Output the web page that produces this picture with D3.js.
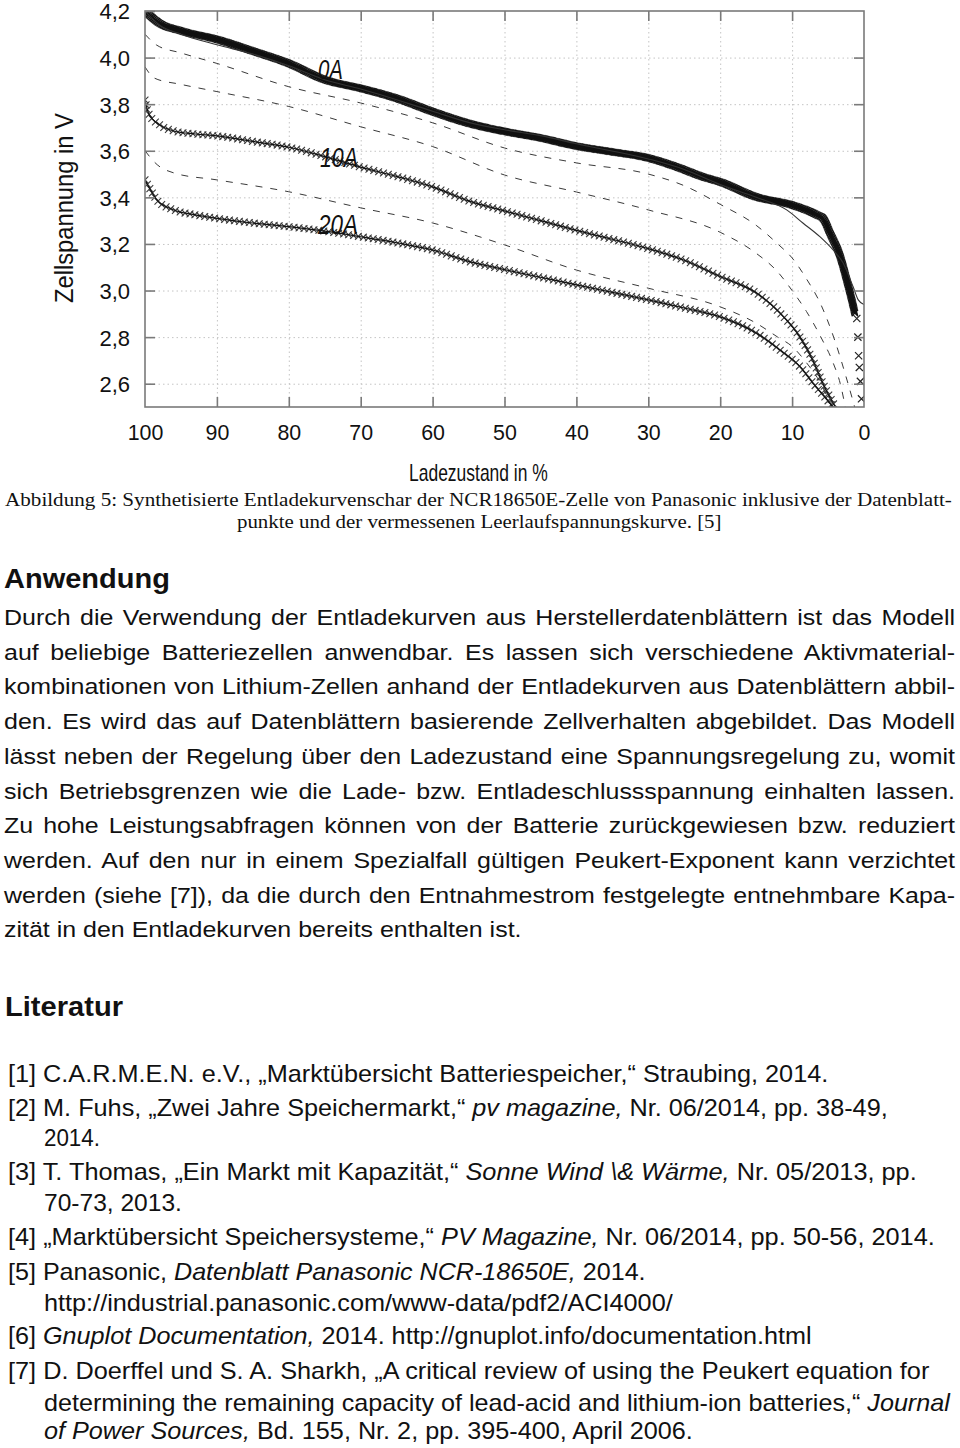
<!DOCTYPE html>
<html><head><meta charset="utf-8">
<script src="https://cdn.jsdelivr.net/npm/d3@7"></script>
<style>body{margin:0;background:#fff} svg{display:block}</style>
</head><body>
<svg id="c" width="960" height="1448"></svg>
<script>
// ---------- DATA ----------
const xTicks = [100,90,80,70,60,50,40,30,20,10,0];
const yTicks = [2.6,2.8,3.0,3.2,3.4,3.6,3.8,4.0,4.2];
const yTickLabels = ["2,6","2,8","3,0","3,2","3,4","3,6","3,8","4,0","4,2"];
// [Ladezustand %, Spannung V]
const ocvMeasured = [[100,4.2],[98,4.148],[95,4.115],[90,4.078],[85,4.028],[80,3.975],[75,3.905],[70,3.868],[65,3.825],[60,3.768],[55,3.718],[50,3.683],[45,3.655],[40,3.62],[35,3.595],[30,3.569],[26,3.53],[22.4,3.488],[20,3.466],[15,3.402],[10,3.367],[6.5,3.324],[5.7,3.31],[4.7,3.245],[3.3,3.145],[2.4,3.045],[1.7,2.96],[1.25,2.9]];
const ocvTail = [[1.0,2.88],[0.85,2.80],[0.75,2.72],[0.65,2.67],[0.5,2.61],[0.35,2.535]];
const ocvModel = [[100,4.2],[98,4.14],[95,4.10],[90,4.055],[85,4.015],[80,3.965],[75,3.905],[70,3.865],[60,3.77],[55,3.722],[50,3.69],[45,3.665],[40,3.63],[30,3.565],[25,3.52],[20,3.455],[15,3.40],[10.7,3.345],[8.5,3.29],[6.1,3.23],[4.3,3.174],[2.9,3.118],[1.5,3.015],[0.8,2.96],[0,2.94]];
const dash1 = [[100,4.10],[98.4,4.054],[95,4.02],[90,3.975],[80,3.875],[70,3.805],[60,3.72],[50,3.612],[40,3.548],[30,3.5],[25,3.45],[20,3.37],[15,3.28],[12,3.20],[10,3.14],[8,3.05],[6,2.94],[4,2.78],[2.5,2.63],[1.3,2.5]];
const dash2 = [[100,3.96],[98.7,3.912],[95,3.885],[90,3.854],[80,3.79],[70,3.703],[60,3.618],[50,3.496],[40,3.423],[30,3.346],[20,3.25],[15,3.16],[12,3.08],[10,3.0],[8,2.91],[6,2.80],[4.3,2.69],[3.3,2.6],[2.6,2.5]];
const dash3 = [[100,3.60],[98.3,3.54],[96,3.505],[90,3.475],[80,3.424],[70,3.355],[60,3.29],[50,3.196],[40,3.088],[30,3.01],[20,2.93],[15,2.86],[12,2.80],[10,2.76],[8,2.69],[6,2.60],[4.5,2.5]];
const curve10A = [[100,3.818],[99.5,3.76],[97.9,3.71],[96,3.685],[93,3.672],[90,3.664],[85,3.64],[80,3.615],[75,3.575],[70,3.53],[65,3.49],[60,3.445],[55,3.385],[50,3.342],[45,3.30],[40,3.258],[35,3.22],[30,3.18],[25,3.13],[20,3.06],[15,2.99],[11.7,2.904],[8.9,2.80],[7.1,2.70],[5.7,2.60],[4.3,2.517],[4.0,2.5]];
const curve20A = [[100,3.475],[99,3.42],[98.4,3.39],[96,3.346],[93,3.325],[90,3.31],[85,3.29],[80,3.274],[75,3.255],[70,3.231],[65,3.205],[60,3.174],[55,3.125],[50,3.09],[45,3.057],[40,3.024],[35,2.992],[30,2.96],[25,2.925],[20,2.887],[15,2.818],[11.7,2.745],[8.9,2.673],[7.1,2.603],[5.1,2.53],[4.3,2.5]];
const curveLabels = ["0A","10A","20A"];
const xTitle = "Ladezustand in %";
const yTitle = "Zellspannung in V";
const captionLines = ["Abbildung 5: Synthetisierte Entladekurvenschar der NCR18650E-Zelle von Panasonic inklusive der Datenblatt-","punkte und der vermessenen Leerlaufspannungskurve. [5]"];
const heading1 = "Anwendung";
const bodyLines = [
 "Durch die Verwendung der Entladekurven aus Herstellerdatenblättern ist das Modell",
 "auf beliebige Batteriezellen anwendbar. Es lassen sich verschiedene Aktivmaterial-",
 "kombinationen von Lithium-Zellen anhand der Entladekurven aus Datenblättern abbil-",
 "den. Es wird das auf Datenblättern basierende Zellverhalten abgebildet. Das Modell",
 "lässt neben der Regelung über den Ladezustand eine Spannungsregelung zu, womit",
 "sich Betriebsgrenzen wie die Lade- bzw. Entladeschlussspannung einhalten lassen.",
 "Zu hohe Leistungsabfragen können von der Batterie zurückgewiesen bzw. reduziert",
 "werden. Auf den nur in einem Spezialfall gültigen Peukert-Exponent kann verzichtet",
 "werden (siehe [7]), da die durch den Entnahmestrom festgelegte entnehmbare Kapa-",
 "zität in den Entladekurven bereits enthalten ist."
];
const heading2 = "Literatur";
// each line: list of [text, italic?]
const refLines = [
 [["[1] C.A.R.M.E.N. e.V., „Marktübersicht Batteriespeicher,“ Straubing, 2014.",0]],
 [["[2] M. Fuhs, „Zwei Jahre Speichermarkt,“ ",0],["pv magazine,",1],[" Nr. 06/2014, pp. 38-49,",0]],
 [["2014.",0]],
 [["[3] T. Thomas, „Ein Markt mit Kapazität,“ ",0],["Sonne Wind \\& Wärme,",1],[" Nr. 05/2013, pp.",0]],
 [["70-73, 2013.",0]],
 [["[4] „Marktübersicht Speichersysteme,“ ",0],["PV Magazine,",1],[" Nr. 06/2014, pp. 50-56, 2014.",0]],
 [["[5] Panasonic, ",0],["Datenblatt Panasonic NCR-18650E,",1],[" 2014.",0]],
 [["http://industrial.panasonic.com/www-data/pdf2/ACI4000/",0]],
 [["[6] ",0],["Gnuplot Documentation,",1],[" 2014. http://gnuplot.info/documentation.html",0]],
 [["[7] D. Doerffel und S. A. Sharkh, „A critical review of using the Peukert equation for",0]],
 [["determining the remaining capacity of lead-acid and lithium-ion batteries,“ ",0],["Journal",1]],
 [["of Power Sources,",1],[" Bd. 155, Nr. 2, pp. 395-400, April 2006.",0]]
];

// ---------- LAYOUT ----------
const L = 145, R = 864, T = 11, B = 407;
const svg = d3.select("#c");
const x = d3.scaleLinear().domain([100,0]).range([L,R]);
const y = d3.scaleLinear().domain([2.5,4.2]).range([B,T]);
const SANS = "'Liberation Sans', Arial, sans-serif";
const SERIF = "'Liberation Serif', 'Times New Roman', serif";

// grid
const gGrid = svg.append("g");
gGrid.append("g").attr("transform",`translate(0,${B})`)
  .call(d3.axisBottom(x).tickValues(xTicks.filter(v=>v>0&&v<100)).tickSize(-(B-T)).tickFormat(""))
  .call(g=>{g.select(".domain").remove(); g.selectAll("line").attr("stroke","#c4c4c4").attr("stroke-dasharray","1.5,3");});
gGrid.append("g").attr("transform",`translate(${L},0)`)
  .call(d3.axisLeft(y).tickValues(yTicks.filter(v=>v<4.2)).tickSize(-(R-L)).tickFormat(""))
  .call(g=>{g.select(".domain").remove(); g.selectAll("line").attr("stroke","#c4c4c4").attr("stroke-dasharray","1.5,3");});

// clip
svg.append("defs").append("clipPath").attr("id","clip").append("rect")
  .attr("x",L).attr("y",T).attr("width",R-L).attr("height",B-T);
const plot = svg.append("g").attr("clip-path","url(#clip)");
const line = d3.line().x(d=>x(d[0])).y(d=>y(d[1])).curve(d3.curveMonotoneX);

function cross(a){return `M${-a},${-a}L${a},${a}M${-a},${a}L${a},${-a}`;}
function markersAlong(path, spacing, a, stroke, sw){
  const n = path.node(); const len = n.getTotalLength();
  const g = plot.append("g");
  for(let l=0;l<=len;l+=spacing){
    const p = n.getPointAtLength(l);
    g.append("path").attr("d",cross(a)).attr("transform",`translate(${p.x},${p.y})`)
     .attr("stroke",stroke).attr("stroke-width",sw).attr("fill","none");
  }
}

// dashed intermediate curves
[dash1,dash2,dash3].forEach(d=>{
  plot.append("path").attr("d",line(d)).attr("fill","none").attr("stroke","#3a3a3a")
   .attr("stroke-width",1).attr("stroke-dasharray","7,8");
});
// 10A / 20A: markers + model line
[curve10A,curve20A].forEach(d=>{
  const p = plot.append("path").attr("d",line(d)).attr("fill","none").attr("stroke","none");
  markersAlong(p, 5, 3.4, "#3c3c3c", 1.1);
  plot.append("path").attr("d",line(d)).attr("fill","none").attr("stroke","#111").attr("stroke-width",1.2);
});
// 0A measured band
{
  const p = plot.append("path").attr("d",line(ocvMeasured)).attr("fill","none").attr("stroke","none");
  markersAlong(p, 1.2, 3.2, "#111", 1.3);
  plot.selectAll(".tail").data(ocvTail).enter().append("path")
    .attr("d",cross(3.6)).attr("transform",d=>`translate(${x(d[0])},${y(d[1])})`)
    .attr("stroke","#222").attr("stroke-width",1.2).attr("fill","none");
  plot.append("path").attr("d",line(ocvModel)).attr("fill","none").attr("stroke","#333").attr("stroke-width",1.1);
}

// frame
svg.append("rect").attr("x",L).attr("y",T).attr("width",R-L).attr("height",B-T)
  .attr("fill","none").attr("stroke","#7a7a7a").attr("stroke-width",1.6);

function styleAxis(g){
  g.select(".domain").remove();
  g.selectAll("line").attr("stroke","#7a7a7a").attr("stroke-width",1.6);
}
// left axis with labels
svg.append("g").attr("transform",`translate(${L},0)`)
  .call(d3.axisLeft(y).tickValues(yTicks).tickSize(-10).tickPadding(15).tickFormat((d,i)=>yTickLabels[i]))
  .call(styleAxis)
  .call(g=>g.selectAll("text").attr("font-family",SANS).attr("font-size",22).attr("fill","#111").attr("dy","0.36em"));
// right
svg.append("g").attr("transform",`translate(${R},0)`)
  .call(d3.axisRight(y).tickValues(yTicks.filter(v=>v<4.2)).tickSize(-10).tickFormat("")).call(styleAxis);
// bottom with labels
svg.append("g").attr("transform",`translate(0,${B})`)
  .call(d3.axisBottom(x).tickValues(xTicks).tickSize(-10).tickPadding(17).tickFormat(d3.format("d")))
  .call(styleAxis)
  .call(g=>{g.selectAll("line").filter(d=>d===100||d===0).remove();
    g.selectAll("text").attr("font-family",SANS).attr("font-size",23).attr("fill","#111").attr("transform","scale(0.93,1)");});
// top
svg.append("g").attr("transform",`translate(0,${T})`)
  .call(d3.axisTop(x).tickValues(xTicks.filter(v=>v>0&&v<100)).tickSize(-10).tickFormat("")).call(styleAxis);

// ---------- TEXT helpers ----------
function fitText(parts, opt){
  const g = svg.append("g");
  const t = g.append("text").attr("x",0).attr("y",0)
    .attr("font-family",opt.family||SANS).attr("font-size",opt.size)
    .attr("font-weight",opt.weight||"normal").attr("fill","#111");
  parts.forEach(p=>t.append("tspan").text(p[0]).attr("font-style",p[1]?"italic":"normal"));
  const len = t.node().getComputedTextLength();
  const k = opt.width ? opt.width/len : 1;
  if(opt.rotate) g.attr("transform",`translate(${opt.x},${opt.y}) rotate(-90) scale(${k},1)`);
  else g.attr("transform",`translate(${opt.x},${opt.y}) scale(${k},1)`);
  return g;
}

// curve labels
fitText([[curveLabels[0],1]],{x:318,y:79,size:27,width:25});
fitText([[curveLabels[1],1]],{x:320,y:167,size:27,width:38});
fitText([[curveLabels[2],1]],{x:318,y:234,size:27,width:40});

// axis titles
fitText([[yTitle,0]],{x:73,y:303,size:25,width:190,rotate:true});
fitText([[xTitle,0]],{x:409,y:481,size:23,width:139});

// caption
fitText([[captionLines[0],0]],{x:5,y:506,size:19.5,width:947,family:SERIF});
fitText([[captionLines[1],0]],{x:237,y:528,size:19.5,width:485,family:SERIF});

// heading
fitText([[heading1,0]],{x:4,y:588,size:27,width:166,weight:"bold"});

// body justified (slightly widened glyphs like the source)
{
  const bodyG = svg.append("g");
  const texts = bodyLines.map((s,i)=>bodyG.append("text").attr("x",0).attr("y",0)
    .attr("font-family",SANS).attr("font-size",22).attr("fill","#111").text(s));
  const lastLen = texts[texts.length-1].node().getComputedTextLength();
  const k = 518/lastLen;
  texts.forEach((t,i)=>{
    t.attr("transform",`translate(4,${625+i*34.7}) scale(${k},1)`);
    if(i<bodyLines.length-1){
      const len = t.node().getComputedTextLength();
      const nsp = (bodyLines[i].match(/ /g)||[]).length;
      t.attr("word-spacing",((951/k-len)/nsp).toFixed(3));
    }
  });
}

// Literatur
fitText([[heading2,0]],{x:5,y:1016,size:28,width:118,weight:"bold"});
const refPos = [[8,1082,821],[8,1116,880],[44,1146,56],[8,1180,909],[44,1211,138],[8,1245,927],[8,1280,638],[44,1311,629],[8,1344,804],[8,1379,922],[44,1411,906],[44,1439,649]];
refLines.forEach((parts,i)=>{
  const p = refPos[i];
  fitText(parts,{x:p[0],y:p[1],size:24,width:p[2]});
});
</script>
</body></html>
